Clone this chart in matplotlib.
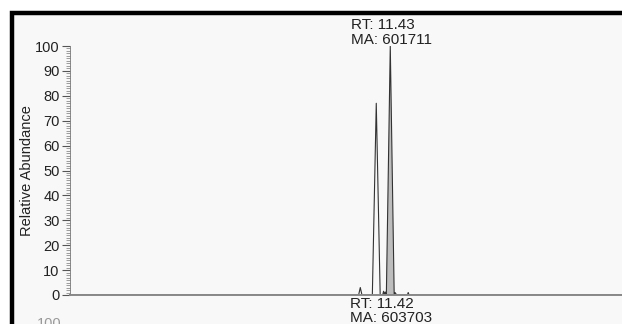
import matplotlib.pyplot as plt
from matplotlib.lines import Line2D
from matplotlib.patches import Rectangle
from matplotlib.ticker import MultipleLocator

plt.rcParams['font.family'] = ['Liberation Sans', 'DejaVu Sans']

# chromatogram trace (retention time in min, relative abundance in %)
rt = [0.0, 10.30, 10.36, 10.42, 10.79, 10.93, 11.07, 11.16, 11.19, 11.22,
      11.25, 11.27, 11.29, 11.43, 11.57, 11.60, 11.63, 11.66, 12.04, 12.07,
      12.10, 19.65]
abundance = [0.0, 0.0, 3.0, 0.0, 0.0, 77.0, 0.0, 0.0, 1.5, 0.3,
             1.2, 0.2, 0.0, 100.0, 0.0, 1.0, 0.5, 0.0, 0.0, 1.0,
             0.0, 0.0]

# integrated peak (shaded)
peak_rt = [11.29, 11.43, 11.57]
peak_ab = [0.0, 100.0, 0.0]

top_label = "RT: 11.43\nMA: 601711"
bottom_label = "RT: 11.42\nMA: 603703"

W, H = 622, 324
fig = plt.figure(figsize=(W / 100, H / 100), dpi=100)
fig.patch.set_facecolor('white')
fig.patch.set_edgecolor('white')

# screenshot frame: light panel with thick black border top/left
fig.patches.append(Rectangle((12 / W, 0), 1 - 12 / W, 1 - 13 / H,
                             transform=fig.transFigure, facecolor='#f8f8f8',
                             edgecolor='none', linewidth=0, zorder=0))
fig.lines.append(Line2D([12 / W, 12 / W, 1], [0, 1 - 13 / H, 1 - 13 / H],
                        transform=fig.transFigure, color='black',
                        linewidth=3.2, solid_joinstyle='miter',
                        solid_capstyle='butt'))

ax = fig.add_axes([70 / W, 1 - 295 / H, 1 - 70 / W, (295 - 46) / H])
ax.set_zorder(2)
ax.patch.set_alpha(0)
ax.fill(peak_rt, peak_ab, color='#bdbdbd', linewidth=0)
ax.plot(rt, abundance, color='#333333', linewidth=0.8)
ax.set_xlim(0, 19.7)
ax.set_ylim(0, 100)

ax.yaxis.set_major_locator(MultipleLocator(10))
ax.yaxis.set_minor_locator(MultipleLocator(1))
ax.tick_params(axis='y', which='major', length=6, width=0.8, color='#555555',
               labelsize=10.5, pad=1.5, labelcolor='#222222')
ax.tick_params(axis='y', which='minor', length=3, width=0.5, color='#777777')
ax.tick_params(axis='x', bottom=False, labelbottom=False)
for side in ['top', 'right']:
    ax.spines[side].set_visible(False)
ax.spines['left'].set_color('#777777')
ax.spines['left'].set_linewidth(0.6)
ax.spines['bottom'].set_color('#888888')
ax.spines['bottom'].set_linewidth(1.4)
ax.set_ylabel('Relative Abundance', fontsize=10.5, color='#222222', labelpad=1)

fig.text(391 / W, 1 - 18 / H, top_label, ha='center', va='top', fontsize=11,
         color='#222222', linespacing=1.05, multialignment='left', zorder=3)
fig.text(391 / W, 1 - 297 / H, bottom_label, ha='center', va='top',
         fontsize=11, color='#222222', linespacing=1.0,
         multialignment='left', zorder=3)
fig.text(62 / W, 1 - 317 / H, '100', ha='right', va='top', fontsize=10.5,
         color='#999999', zorder=3)

fig.savefig('out.png', dpi=100)
